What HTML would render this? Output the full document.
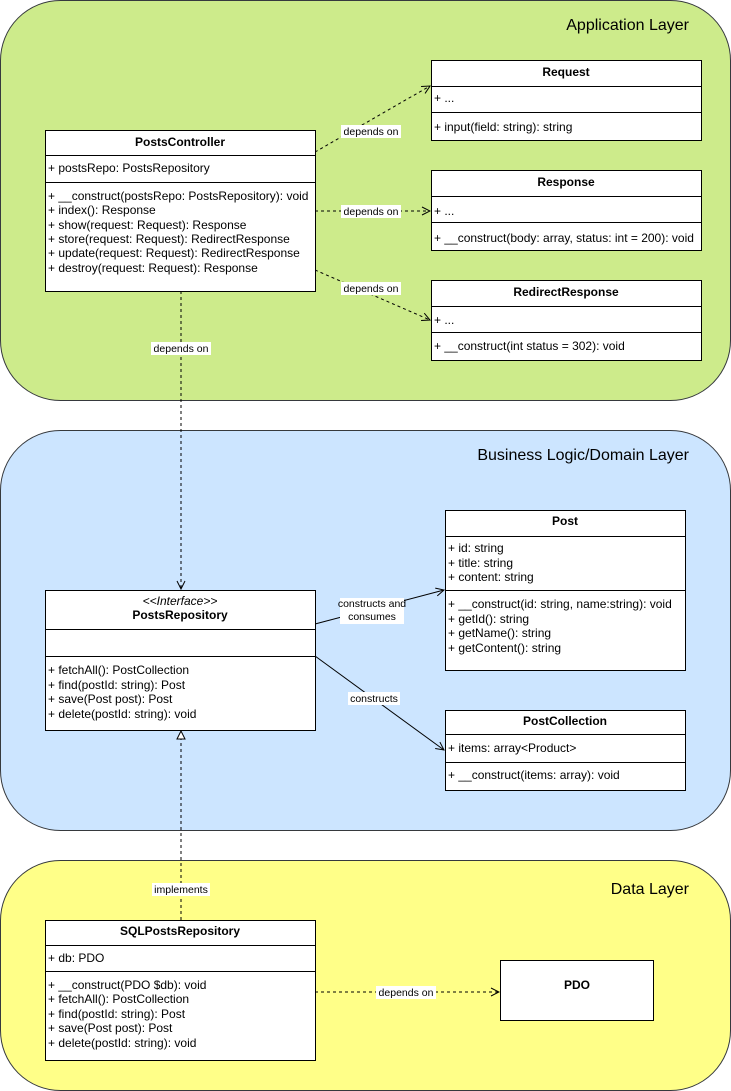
<!DOCTYPE html>
<html><head><meta charset="utf-8"><style>
body{margin:0;background:#fff}
svg{display:block;font-family:"Liberation Sans",Arial,sans-serif}
.m{font-size:12px;fill:#000}
.h{font-size:12px;font-weight:bold;text-anchor:middle}
.l{font-size:10.5px;text-anchor:middle}
.t{font-size:16px;text-anchor:end}
.b{fill:#fff;stroke:#000;stroke-width:1}
.s{stroke:#000;stroke-width:1}
.d{stroke:#000;stroke-width:1;stroke-dasharray:3 3;fill:none}
</style></head><body>
<svg width="731" height="1091" viewBox="0 0 731 1091">
<defs>
<marker id="a" markerWidth="10" markerHeight="10" refX="9" refY="5" orient="auto" markerUnits="userSpaceOnUse"><path d="M1,1 L9,5 L1,9" fill="none" stroke="#000"/></marker>
<marker id="tri" markerWidth="10" markerHeight="10" refX="9" refY="5" orient="auto" markerUnits="userSpaceOnUse"><path d="M1,1 L9,5 L1,9 Z" fill="#fff" stroke="#000"/></marker>
</defs>
<rect x="0.5" y="0.5" width="730" height="400" rx="60" fill="#cdeb8b" stroke="#36393d"/>
<rect x="0.5" y="430.5" width="730" height="400" rx="60" fill="#cce5ff" stroke="#36393d"/>
<rect x="0.5" y="860.5" width="730" height="230" rx="60" fill="#ffff88" stroke="#36393d"/>
<text class="t" x="689" y="30">Application Layer</text>
<text class="t" x="689" y="460">Business Logic/Domain Layer</text>
<text class="t" x="689" y="894">Data Layer</text>

<line class="d" x1="315" y1="152" x2="430" y2="86" marker-end="url(#a)"/>
<line class="d" x1="315" y1="211" x2="430" y2="211" marker-end="url(#a)"/>
<line class="d" x1="315" y1="270" x2="430" y2="320" marker-end="url(#a)"/>
<line class="d" x1="181" y1="291" x2="181" y2="589" marker-end="url(#a)"/>
<line class="s" x1="315" y1="624" x2="444" y2="590" marker-end="url(#a)"/>
<line class="s" x1="315" y1="656" x2="444" y2="750" marker-end="url(#a)"/>
<line class="d" x1="181" y1="920" x2="181" y2="731" marker-end="url(#tri)"/>
<line class="d" x1="315" y1="992" x2="499" y2="992" marker-end="url(#a)"/>
<g>
<rect x="341" y="125" width="60" height="13" fill="#fff"/><text class="l" x="371" y="135">depends on</text>
<rect x="341" y="205" width="60" height="13" fill="#fff"/><text class="l" x="371" y="215">depends on</text>
<rect x="341" y="282" width="60" height="13" fill="#fff"/><text class="l" x="371" y="292">depends on</text>
<rect x="151" y="342" width="60" height="13" fill="#fff"/><text class="l" x="181" y="352">depends on</text>
<rect x="340" y="598" width="64" height="26" fill="#fff"/><text class="l" x="372" y="607">constructs and</text><text class="l" x="372" y="620">consumes</text>
<rect x="348" y="692" width="52" height="13" fill="#fff"/><text class="l" x="374" y="702">constructs</text>
<rect x="152" y="883" width="58" height="13" fill="#fff"/><text class="l" x="181" y="893">implements</text>
<rect x="376" y="986" width="60" height="13" fill="#fff"/><text class="l" x="406" y="996">depends on</text>
</g>

<rect class="b" x="45.5" y="130.5" width="270" height="161"/>
<line class="s" x1="45" y1="155.5" x2="315" y2="155.5"/><line class="s" x1="45" y1="182.5" x2="315" y2="182.5"/>
<text class="h" x="180" y="146">PostsController</text>
<text class="m" x="48" y="172">+ postsRepo: PostsRepository</text>
<text class="m" x="48" y="200">+ __construct(postsRepo: PostsRepository): void</text>
<text class="m" x="48" y="214">+ index(): Response</text>
<text class="m" x="48" y="229">+ show(request: Request): Response</text>
<text class="m" x="48" y="243">+ store(request: Request): RedirectResponse</text>
<text class="m" x="48" y="257">+ update(request: Request): RedirectResponse</text>
<text class="m" x="48" y="272">+ destroy(request: Request): Response</text>

<rect class="b" x="431.5" y="60.5" width="270" height="80"/>
<line class="s" x1="431" y1="86.5" x2="701" y2="86.5"/><line class="s" x1="431" y1="112.5" x2="701" y2="112.5"/>
<text class="h" x="566" y="76">Request</text>
<text class="m" x="434" y="102">+ ...</text>
<text class="m" x="434" y="131">+ input(field: string): string</text>

<rect class="b" x="431.5" y="170.5" width="270" height="80"/>
<line class="s" x1="431" y1="196.5" x2="701" y2="196.5"/><line class="s" x1="431" y1="222.5" x2="701" y2="222.5"/>
<text class="h" x="566" y="186">Response</text>
<text class="m" x="434" y="215">+ ...</text>
<text class="m" x="434" y="242">+ __construct(body: array, status: int = 200): void</text>

<rect class="b" x="431.5" y="280.5" width="270" height="80"/>
<line class="s" x1="431" y1="306.5" x2="701" y2="306.5"/><line class="s" x1="431" y1="332.5" x2="701" y2="332.5"/>
<text class="h" x="566" y="296">RedirectResponse</text>
<text class="m" x="434" y="324">+ ...</text>
<text class="m" x="434" y="350">+ __construct(int status = 302): void</text>

<rect class="b" x="445.5" y="510.5" width="240" height="160"/>
<line class="s" x1="445" y1="536.5" x2="685" y2="536.5"/><line class="s" x1="445" y1="590.5" x2="685" y2="590.5"/>
<text class="h" x="565" y="525">Post</text>
<text class="m" x="448" y="552">+ id: string</text>
<text class="m" x="448" y="567">+ title: string</text>
<text class="m" x="448" y="581">+ content: string</text>
<text class="m" x="448" y="608">+ __construct(id: string, name:string): void</text>
<text class="m" x="448" y="623">+ getId(): string</text>
<text class="m" x="448" y="637">+ getName(): string</text>
<text class="m" x="448" y="652">+ getContent(): string</text>

<rect class="b" x="445.5" y="710.5" width="240" height="80"/>
<line class="s" x1="445" y1="734.5" x2="685" y2="734.5"/><line class="s" x1="445" y1="762.5" x2="685" y2="762.5"/>
<text class="h" x="565" y="725">PostCollection</text>
<text class="m" x="448" y="752">+ items: array&lt;Product&gt;</text>
<text class="m" x="448" y="779">+ __construct(items: array): void</text>

<rect class="b" x="45.5" y="590.5" width="270" height="140"/>
<line class="s" x1="45" y1="629.5" x2="315" y2="629.5"/><line class="s" x1="45" y1="656.5" x2="315" y2="656.5"/>
<text class="l" x="180" y="605" style="font-style:italic;font-size:12px">&lt;&lt;Interface&gt;&gt;</text>
<text class="h" x="180" y="619">PostsRepository</text>
<text class="m" x="48" y="674">+ fetchAll(): PostCollection</text>
<text class="m" x="48" y="689">+ find(postId: string): Post</text>
<text class="m" x="48" y="703">+ save(Post post): Post</text>
<text class="m" x="48" y="718">+ delete(postId: string): void</text>

<rect class="b" x="45.5" y="920.5" width="270" height="140"/>
<line class="s" x1="45" y1="945.5" x2="315" y2="945.5"/><line class="s" x1="45" y1="971.5" x2="315" y2="971.5"/>
<text class="h" x="180" y="935">SQLPostsRepository</text>
<text class="m" x="48" y="962">+ db: PDO</text>
<text class="m" x="48" y="989">+ __construct(PDO $db): void</text>
<text class="m" x="48" y="1003">+ fetchAll(): PostCollection</text>
<text class="m" x="48" y="1018">+ find(postId: string): Post</text>
<text class="m" x="48" y="1032">+ save(Post post): Post</text>
<text class="m" x="48" y="1047">+ delete(postId: string): void</text>

<rect class="b" x="500.5" y="960.5" width="153" height="60"/>
<text class="h" x="577" y="989">PDO</text>
</svg>
</body></html>
